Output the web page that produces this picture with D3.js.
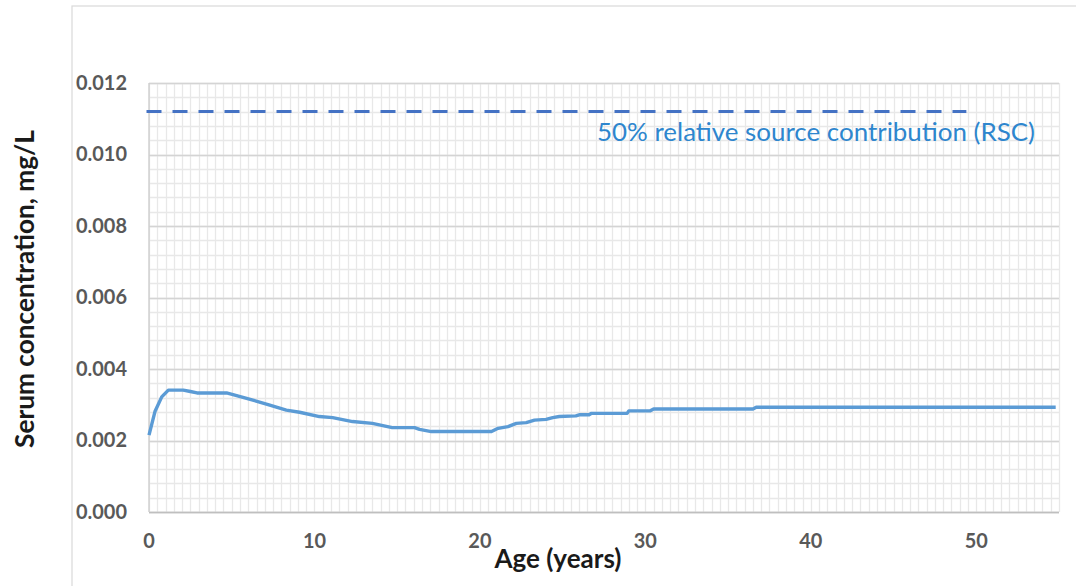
<!DOCTYPE html>
<html>
<head>
<meta charset="utf-8">
<script src="https://cdn.jsdelivr.net/npm/d3@7"></script>
<style>
  html, body { margin: 0; padding: 0; background: #fff; }
  svg { display: block; }
  text { font-family: Lato, "Open Sans", sans-serif; }
</style>
</head>
<body>
<svg id="chart" width="1076" height="586"></svg>
<script>
// ---- data ----
const ages = [0, 0.36, 0.77, 1.17, 2.07, 2.5, 2.9, 4.69, 5.9, 7.3, 8.3, 9.1, 10.3, 11.1, 12.3, 13.5, 14.7, 16.05, 16.35, 17.06, 20.7, 21.1, 21.7, 22.2, 22.8, 23.3, 24.0, 24.4, 24.8, 25.8, 26.0, 26.6, 26.75, 28.9, 29.0, 30.3, 30.5, 36.5, 36.7, 54.8];
const serum = [0.00215, 0.00281, 0.00322, 0.00341, 0.00341, 0.00337, 0.00333, 0.00333, 0.00318, 0.00299, 0.00285, 0.00279, 0.00267, 0.00264, 0.00253, 0.00248, 0.00236, 0.00236, 0.00231, 0.00225, 0.00225, 0.00234, 0.00239, 0.00248, 0.00250, 0.00257, 0.00259, 0.00264, 0.00267, 0.00269, 0.00272, 0.00272, 0.00276, 0.00276, 0.00283, 0.00283, 0.00288, 0.00288, 0.00293, 0.00293];
const rscValue = [0.0112];
const rscAgeRange = [0, 49.4];
const xTicks = [0, 10, 20, 30, 40, 50];
const yTicks = [0, 0.002, 0.004, 0.006, 0.008, 0.010, 0.012];
const yTickLabels = ["0.000", "0.002", "0.004", "0.006", "0.008", "0.010", "0.012"];
const xMinorStep = [0.5];
const yMinorStep = [0.0004];
const rscLabel = ["50% relative source contribution (RSC)"];
const xTitle = ["Age (years)"];
const yTitle = ["Serum concentration, mg/L"];

const svg = d3.select("#chart");
const x = d3.scaleLinear().domain([0, 55]).range([149, 1059]);
const y = d3.scaleLinear().domain([0, 0.012]).range([512, 83]);

function fit(sel, target) {
  const n = sel.node();
  const len = n.getComputedTextLength();
  const fs = parseFloat(sel.attr("font-size"));
  sel.attr("font-size", (fs * target / len).toFixed(2));
}

// chart-area border
svg.append("rect").attr("x", 72).attr("y", 6).attr("width", 1100).attr("height", 700)
  .attr("fill", "none").attr("stroke", "#d9d9d9").attr("stroke-width", 1.2);

// minor grid
const xMinor = d3.range(0, 55 + 1e-9, xMinorStep[0]);
const yMinor = d3.range(0, 0.012 + 1e-9, yMinorStep[0]);
const g = svg.append("g");
g.selectAll(".vmin").data(xMinor).enter().append("line")
  .attr("x1", d => Math.round(x(d)) + 0.5).attr("x2", d => Math.round(x(d)) + 0.5)
  .attr("y1", y(0.012)).attr("y2", y(0))
  .attr("stroke", "#e8e8e8").attr("stroke-width", 1.3);
g.selectAll(".hmin").data(yMinor).enter().append("line")
  .attr("y1", d => Math.round(y(d)) + 0.5).attr("y2", d => Math.round(y(d)) + 0.5)
  .attr("x1", x(0)).attr("x2", x(55))
  .attr("stroke", "#e8e8e8").attr("stroke-width", 1.3);
// major horizontal grid
g.selectAll(".hmaj").data(yTicks).enter().append("line")
  .attr("y1", d => Math.round(y(d)) + 0.5).attr("y2", d => Math.round(y(d)) + 0.5)
  .attr("x1", x(0)).attr("x2", x(55))
  .attr("stroke", "#d4d4d4").attr("stroke-width", 1.4);

// axes lines
svg.append("line").attr("x1", x(0)).attr("x2", x(55)).attr("y1", y(0) + 0.5).attr("y2", y(0) + 0.5)
  .attr("stroke", "#bfbfbf").attr("stroke-width", 1.6);
svg.append("line").attr("x1", x(0)).attr("x2", x(0)).attr("y1", y(0)).attr("y2", y(0.012))
  .attr("stroke", "#cfcfcf").attr("stroke-width", 1.4);

// tick labels
const yl = svg.append("g").selectAll("text").data(yTicks).enter().append("text")
  .attr("x", 127).attr("y", d => y(d)).attr("dy", "0.35em")
  .attr("text-anchor", "end").attr("font-weight", "bold").attr("font-size", 16)
  .attr("fill", "#595959").text((d, i) => yTickLabels[i]);
{
  const first = yl.filter((d, i) => i === 6);
  const len = first.node().getComputedTextLength();
  const fs = 16 * 51 / len;
  yl.attr("font-size", fs.toFixed(2));
}
const xl = svg.append("g").selectAll("text").data(xTicks).enter().append("text")
  .attr("x", d => x(d)).attr("y", 548)
  .attr("text-anchor", "middle").attr("font-weight", "bold")
  .attr("font-size", yl.attr("font-size"))
  .attr("fill", "#595959").text(d => d);

// data line
const line = d3.line().x(d => x(d[0])).y(d => y(d[1]));
svg.append("path").datum(ages.map((a, i) => [a, serum[i]]))
  .attr("d", line).attr("fill", "none").attr("stroke", "#5B9BD5")
  .attr("stroke-width", 3.4).attr("stroke-linejoin", "round");

// RSC dashed line
svg.append("line")
  .attr("x1", x(rscAgeRange[0]) - 2.5).attr("x2", x(rscAgeRange[1]))
  .attr("y1", y(rscValue[0])).attr("y2", y(rscValue[0]))
  .attr("stroke", "#4472C4").attr("stroke-width", 3).attr("stroke-dasharray", "15,11");

const ann = svg.append("text").attr("x", 597).attr("y", 141)
  .attr("font-size", 20).attr("fill", "#2E86CE").text(rscLabel[0]);
fit(ann, 438);

// axis titles
const xt = svg.append("text").attr("x", 558).attr("y", 568).attr("text-anchor", "middle")
  .attr("font-weight", "bold").attr("font-size", 20).attr("fill", "#1a1a1a").text(xTitle[0]);
fit(xt, 127);
const yt = svg.append("text").attr("transform", "translate(34,289) rotate(-90)")
  .attr("text-anchor", "middle").attr("font-weight", "bold").attr("font-size", 20)
  .attr("fill", "#1a1a1a").text(yTitle[0]);
fit(yt, 318);
</script>
</body>
</html>
